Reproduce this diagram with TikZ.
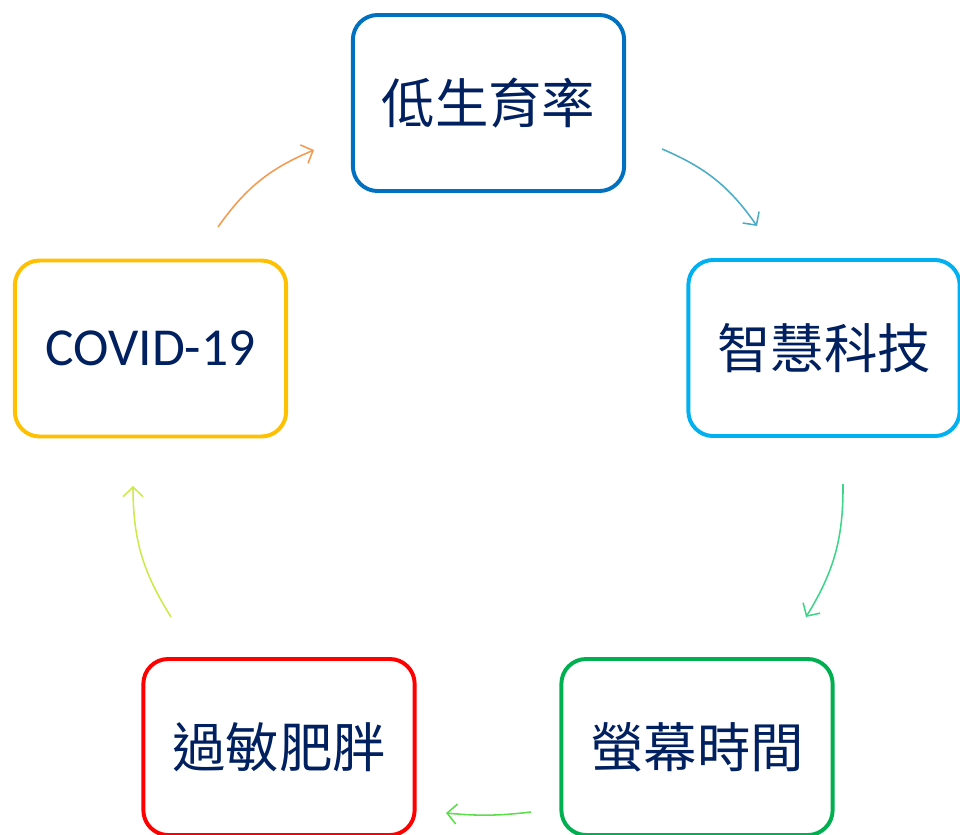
\documentclass[tikz,border=0pt]{standalone}
\usepackage{fontspec}
\setmainfont{Carlito}
\newfontfamily\cjk{Noto Sans CJK TC}
\usetikzlibrary{arrows.meta}
\definecolor{navy}{HTML}{002060}
\definecolor{cBirth}{HTML}{0070C0}
\definecolor{cTech}{HTML}{00B0F0}
\definecolor{cScreen}{HTML}{00B050}
\definecolor{cAllergy}{HTML}{FF0000}
\definecolor{cCovid}{HTML}{FFC000}
\definecolor{aOrange}{HTML}{F59A4E}
\definecolor{aBlue}{HTML}{4BACC6}
\definecolor{aGreen}{HTML}{3ED58A}
\definecolor{aLime}{HTML}{5CDD4A}
\definecolor{aYellow}{HTML}{CDEA4A}
\tikzset{
  topic/.style={draw=#1, line width=2.8pt, rounded corners=0.62cm, fill=white,
    minimum width=6.78cm, minimum height=4.4cm, text=navy, font=\fontsize{38}{41}\selectfont},
  cyc/.style={draw=#1, line width=1.1pt, bend left=16,
    -{Straight Barb[length=2.4mm,width=5mm]}}
}
\begin{document}
\begin{tikzpicture}[x=0.025cm, y=-0.025cm]
	\useasboundingbox (0,0) rectangle (960,835);
	% boxes
	\node[topic=cBirth] (birth) at (488.5,103) {\cjk 低生育率};
	\node[topic=cTech] (tech) at (824,348) {\cjk 智慧科技};
	\node[topic=cScreen] (screen) at (697,747) {\cjk 螢幕時間};
	\node[topic=cAllergy] (allergy) at (279,747) {\cjk 過敏肥胖};
	\node[topic=cCovid] (covid) at (150.5,348.5) {COVID-19};
	% arrow ends
	\coordinate (o1) at (218,227);
	\coordinate (o2) at (314,150);
	\coordinate (b1) at (662,149);
	\coordinate (b2) at (757,226);
	\coordinate (g1) at (843,484);
	\coordinate (g2) at (806,617);
	\coordinate (l1) at (531,812);
	\coordinate (l2) at (446,813);
	\coordinate (y1) at (171,617);
	\coordinate (y2) at (133,486);
	% arrows
	\draw[cyc=aOrange] (o1) to (o2);
	\draw[cyc=aBlue] (b1) to (b2);
	\draw[cyc=aGreen] (g1) to (g2);
	\draw[cyc=aLime, bend left=6] (l1) to (l2);
	\draw[cyc=aYellow] (y1) to (y2);
\end{tikzpicture}
\end{document}
